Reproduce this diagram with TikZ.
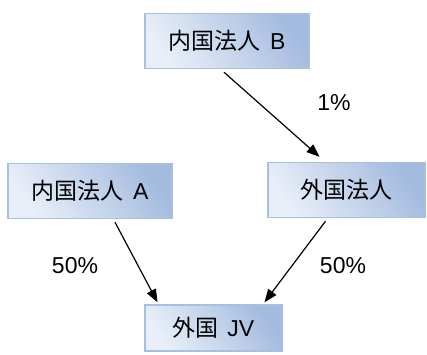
\documentclass[tikz,border=0pt]{standalone}
\usepackage{fontspec}
\setmainfont{Liberation Sans}
\newfontfamily\cjk{Noto Sans CJK JP}
\usetikzlibrary{arrows.meta,calc}
\definecolor{boxlight}{HTML}{E9EFF8}
\definecolor{boxdark}{HTML}{A3BBDF}
\definecolor{boxedge}{HTML}{A9BFE0}
\tikzset{
  box/.style={draw=boxedge, line width=1.4pt, bottom color=boxlight, top color=boxdark, shading angle=-55,
    minimum height=55pt, inner sep=0pt, font=\fontsize{23}{26}\selectfont},
  conn/.style={line width=1.2pt, -{Triangle[length=13pt,width=10pt]}},
  pct/.style={font=\fontsize{23}{26}\selectfont, inner sep=0pt}
}
\newcommand{\cj}[1]{{\cjk\fontsize{23}{26}\selectfont #1}}
\begin{document}
\begin{tikzpicture}[x=1pt,y=-1pt]
\useasboundingbox (0,0) rectangle (427,354);
\node[box, minimum width=164pt] (B) at (227,41) {\cj{内国法人}\hspace{3pt} B};
\node[box, minimum width=164pt] (A) at (90,191) {\cj{内国法人}\hspace{3pt} A};
\node[box, minimum width=157pt] (F) at (346.5,190) {\cj{外国法人}};
\node[box, minimum width=137pt, minimum height=46pt] (J) at (213.5,328) {\cj{外国}\hspace{2pt} JV};
\coordinate (b1) at ($(B.south)+(-3,3)$);
\coordinate (f1) at ($(F.north)+(-27,-5)$);
\coordinate (a1) at ($(A.south)+(25,3)$);
\coordinate (j1) at ($(J.north)+(-56,-2)$);
\coordinate (f2) at ($(F.south)+(-21,3)$);
\coordinate (j2) at ($(J.north)+(51,-2)$);
\draw[conn] (b1) -- (f1);
\draw[conn] (a1) -- (j1);
\draw[conn] (f2) -- (j2);
\node[pct] (p1) at (334,103) {1\%};
\node[pct] (p2) at (75,266) {50\%};
\node[pct] (p3) at (343,266) {50\%};
\end{tikzpicture}
\end{document}
